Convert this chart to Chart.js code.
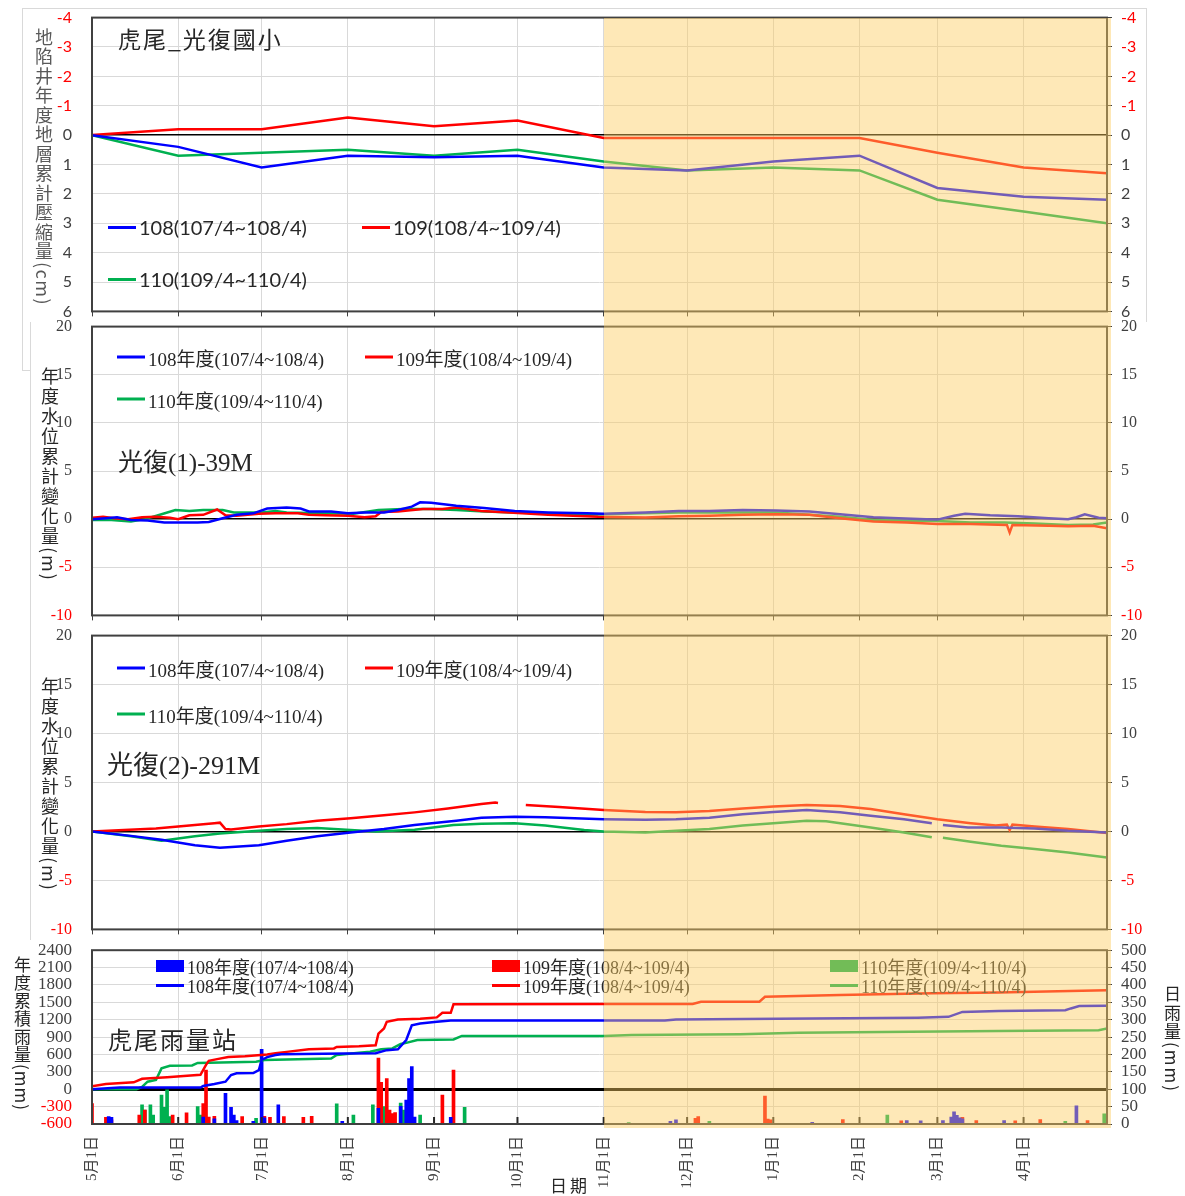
<!DOCTYPE html>
<html>
<head>
<meta charset="utf-8">
<script src="https://cdn.jsdelivr.net/npm/chart.js@4.4.0/dist/chart.umd.min.js"></script>
<style>
body { margin: 0; background: #fff; }
#wrap { position: relative; width: 1185px; height: 1196px; overflow: hidden; }
canvas { position: absolute; left: 0; }
.txt { position: absolute; white-space: nowrap; color: #262626; transform: translateY(-50%); line-height: 1; }
.vert { position: absolute; writing-mode: vertical-rl; white-space: nowrap; line-height: 1; color: #262626; font-family: "Noto Sans CJK TC", "Liberation Serif", serif; }
.leg { position: absolute; white-space: nowrap; display: flex; align-items: center; transform: translateY(-50%); color: #262626; line-height: 1; }
.leg i { display: inline-block; width: 28px; margin-right: 3px; }
#shade { position: absolute; background: rgba(252, 205, 95, 0.45); pointer-events: none; z-index: 10; }
</style>
</head>
<body>
<div id="wrap">
  <div style="position:absolute;left:22px;top:8px;width:1123px;height:361px;border:1px solid #d9d9d9;"></div>
  <div style="position:absolute;left:30px;top:322px;width:1160px;height:618px;background:#fff;border-left:1px solid #d9d9d9;"></div>
  <canvas id="c1" width="1185" height="322" style="top:0px"></canvas>
  <canvas id="c2" width="1185" height="314" style="top:312px"></canvas>
  <canvas id="c3" width="1185" height="319" style="top:621px"></canvas>
  <canvas id="c4" width="1185" height="261" style="top:935px"></canvas>
  <div id="shade"></div>
</div>
<script>
// x axis: days since 5/1
const monthDays = [0, 31, 61, 92, 123, 153, 184, 214, 245, 276, 304, 335];
const monthLabels = ['5月1日', '6月1日', '7月1日', '8月1日', '9月1日', '10月1日', '11月1日', '12月1日', '1月1日', '2月1日', '3月1日', '4月1日'];
const shadeFrom = 184; // 11月1日

// 地陷井 (cm), monthly
const subsDays = [0, 31, 61, 92, 123, 153, 184, 214, 245, 276, 304, 335, 365];
const subs108 = [0, 0.4, 1.1, 0.7, 0.75, 0.7, 1.1, 1.2, 0.9, 0.7, 1.8, 2.1, 2.2];
const subs109 = [0, -0.2, -0.2, -0.6, -0.3, -0.5, 0.1, 0.1, 0.1, 0.1, 0.6, 1.1, 1.3];
const subs110 = [0, 0.7, 0.6, 0.5, 0.7, 0.5, 0.9, 1.2, 1.1, 1.2, 2.2, 2.6, 3.0];
const subsLabels = ['108(107/4~108/4)', '109(108/4~109/4)', '110(109/4~110/4)'];
const yearLabels = ['108年度(107/4~108/4)', '109年度(108/4~109/4)', '110年度(109/4~110/4)'];

// 光復(1)-39M water level change (m): [day, value]
const wl39_108 = [[0,0],[5,0.1],[9,0.2],[14,-0.1],[20,-0.15],[26,-0.35],[33,-0.35],[38,-0.35],[42,-0.3],[47,0.1],[52,0.45],[58,0.6],[63,1.1],[70,1.2],[75,1.1],[78,0.8],[86,0.8],[92,0.6],[98,0.7],[105,0.7],[110,0.95],[115,1.3],[118,1.75],[122,1.7],[131,1.4],[141,1.15],[152,0.85],[164,0.7],[178,0.6],[184,0.55],[199,0.7],[211,0.85],[222,0.85],[234,0.95],[246,0.9],[258,0.8],[269,0.5],[281,0.2],[290,0.1],[300,0],[304,-0.05],[310,0.35],[314,0.55],[323,0.4],[333,0.3],[344,0.1],[351,0],[354,0.2],[357,0.5],[362,0.15],[365,0.1]];
const wl39_109 = [[0,0.15],[4,0.25],[8,0.1],[13,0],[18,0.2],[23,0.25],[28,0.15],[31,0],[35,0.4],[40,0.45],[45,1.0],[48,0.4],[52,0.35],[60,0.55],[66,0.6],[74,0.6],[78,0.45],[84,0.4],[92,0.35],[98,0.2],[102,0.3],[104,0.75],[110,0.8],[119,1.05],[126,1.05],[131,1.2],[140,0.85],[150,0.7],[164,0.45],[182,0.25],[199,0.17],[211,0.3],[222,0.35],[234,0.45],[246,0.5],[258,0.45],[269,0.1],[281,-0.25],[293,-0.35],[304,-0.5],[316,-0.5],[329,-0.6],[330,-1.4],[331,-0.6],[344,-0.7],[351,-0.75],[360,-0.7],[365,-0.95]];
const wl39_110 = [[0,-0.1],[7,-0.1],[14,-0.25],[19,0],[25,0.5],[30,0.95],[35,0.85],[40,0.95],[47,0.95],[51,0.7],[61,0.7],[66,0.85],[70,0.7],[82,0.6],[94,0.55],[103,0.95],[112,1.05],[122,1.05],[131,0.95],[141,0.8],[152,0.7],[164,0.6],[178,0.45],[184,0.5],[199,0.6],[211,0.7],[222,0.7],[234,0.7],[246,0.7],[258,0.45],[269,0.25],[281,-0.1],[293,-0.17],[304,-0.2],[316,-0.35],[328,-0.35],[339,-0.45],[351,-0.6],[360,-0.55],[365,-0.35]];

// 光復(2)-291M water level change (m)
const wl291_108 = [[0,0],[14,-0.45],[25,-0.85],[37,-1.4],[46,-1.65],[60,-1.4],[70,-0.95],[81,-0.5],[93,-0.1],[105,0.25],[116,0.65],[131,1.1],[140,1.4],[152,1.5],[163,1.45],[184,1.25],[199,1.2],[210,1.25],[222,1.4],[234,1.75],[245,2.0],[257,2.2],[269,1.95],[280,1.6],[292,1.25],[302,0.85],[303,null],[306,0.65],[315,0.4],[327,0.4],[339,0.3],[351,0.07],[365,-0.1]];
const wl291_109 = [[0,0],[23,0.3],[44,0.85],[46,0.9],[48,0.25],[50,0.2],[60,0.5],[70,0.75],[81,1.1],[93,1.35],[105,1.65],[116,1.95],[128,2.35],[140,2.8],[145,2.95],[146,2.9],[150,null],[156,2.7],[168,2.5],[184,2.2],[199,2.0],[210,1.95],[222,2.1],[234,2.35],[245,2.55],[257,2.7],[269,2.6],[280,2.3],[292,1.75],[304,1.25],[316,0.85],[325,0.6],[329,0.7],[330,0.15],[331,0.7],[339,0.5],[351,0.25],[365,-0.15]];
const wl291_110 = [[0,0],[14,-0.5],[25,-0.95],[37,-0.5],[46,-0.2],[60,0.07],[70,0.25],[81,0.35],[93,0.15],[102,0],[116,0.17],[130,0.65],[140,0.8],[152,0.85],[163,0.6],[177,0.15],[184,0],[199,-0.1],[210,0.07],[222,0.25],[234,0.6],[245,0.85],[257,1.1],[264,1.05],[280,0.4],[292,-0.1],[302,-0.6],[303,null],[306,-0.65],[316,-1.05],[327,-1.45],[339,-1.8],[351,-2.15],[365,-2.65]];

// 虎尾雨量站 daily rain (mm): [day, mm]
const rainDay108 = [[6,21],[7,19],[40,20],[44,15],[48,88],[50,48],[51,26],[52,10],[58,8],[61,215],[62,18],[67,55],[90,8],[103,45],[111,51],[113,69],[114,131],[115,165],[116,20],[129,19],[208,8],[210,12],[259,5],[293,10],[298,9],[306,10],[309,20],[310,35],[311,25],[312,18],[313,15],[328,10],[354,52]];
const rainDay109 = [[0,59],[5,19],[7,12],[17,26],[19,40],[29,26],[34,32],[40,59],[41,155],[42,20],[44,22],[54,21],[62,22],[64,19],[69,21],[76,19],[79,22],[103,190],[104,120],[106,131],[107,40],[108,30],[109,33],[126,83],[130,155],[217,16],[218,21],[242,80],[243,14],[244,12],[270,13],[291,9],[313,19],[318,10],[332,9],[341,13],[358,10]];
const rainDay110 = [[18,55],[19,40],[21,55],[22,26],[25,83],[26,48],[27,98],[28,21],[38,50],[39,26],[59,16],[88,58],[94,26],[101,55],[105,50],[111,60],[112,40],[118,26],[134,48],[193,4],[222,8],[286,26],[350,8],[364,29]];

// cumulative rain (mm)
const rainCum108 = [[0,0],[7,20],[10,30],[39,30],[40,55],[44,90],[48,130],[50,245],[52,275],[58,280],[60,330],[61,505],[63,555],[66,590],[68,605],[91,615],[102,620],[106,675],[110,690],[113,850],[115,1105],[118,1135],[124,1165],[129,1185],[184,1185],[206,1185],[210,1205],[259,1220],[297,1235],[308,1250],[313,1335],[326,1350],[350,1365],[352,1395],[355,1435],[365,1440]];
const rainCum109 = [[0,50],[5,90],[15,120],[18,180],[27,205],[33,228],[39,250],[41,420],[42,490],[45,520],[49,555],[55,570],[63,600],[66,620],[70,645],[78,690],[87,705],[88,730],[96,740],[102,760],[103,960],[105,1050],[106,1165],[110,1205],[118,1215],[124,1240],[126,1320],[129,1320],[130,1465],[184,1470],[216,1470],[219,1510],[240,1510],[242,1595],[269,1625],[302,1655],[326,1670],[356,1700],[365,1710]];
const rainCum110 = [[0,0],[16,0],[18,40],[20,130],[23,160],[25,360],[28,405],[36,410],[38,455],[59,475],[62,505],[86,530],[88,590],[96,630],[100,647],[104,690],[108,705],[111,780],[113,800],[117,848],[130,860],[133,920],[184,920],[194,935],[233,950],[254,975],[284,990],[326,1005],[362,1020],[365,1050]];

const BLUE = '#0000ff', RED = '#ff0000', GREEN = '#00b050';
const DARK = '#404040';
const SERIF = '"Liberation Serif", "Noto Sans CJK TC", serif';
const SANS = 'Lato, "Liberation Sans", sans-serif';

const frame = {
    id: 'frame',
    afterDraw(chart, args, opts) {
        const { ctx, chartArea: a } = chart;
        ctx.save();
        if (opts.innerTicks) {
            const xs = chart.scales.x;
            ctx.strokeStyle = '#262626';
            ctx.lineWidth = 2;
            monthDays.forEach(d => {
                const px = xs.getPixelForValue(d);
                ctx.beginPath();
                ctx.moveTo(px, a.bottom);
                ctx.lineTo(px, a.bottom - 7);
                ctx.stroke();
            });
        }
        ctx.strokeStyle = DARK;
        ctx.lineWidth = 2;
        ctx.strokeRect(a.left, a.top, a.right - a.left, a.bottom - a.top);
        ctx.restore();
    }
};
Chart.register(frame);

const pts = arr => arr.map(([x, y]) => ({ x, y }));
const signColor = c => (c.tick && c.tick.value < 0) ? RED : DARK;
const plain = v => String(v);

function lineSet(label, data, color) {
    return { type: 'line', label, data: pts(data), borderColor: color, backgroundColor: color,
        borderWidth: 2.5, pointRadius: 0, tension: 0, spanGaps: false, order: 1, yAxisID: 'y' };
}
function barSet(label, data, color) {
    return { type: 'bar', label, data: pts(data), backgroundColor: color,
        barThickness: 3, grouped: false, order: 2, yAxisID: 'y2' };
}

function xAxis(withLabels) {
    return {
        type: 'linear', min: 0, max: 365, offset: false,
        afterBuildTicks: s => { s.ticks = monthDays.map(v => ({ value: v })); },
        afterFit: s => { s.height = withLabels ? 72 : 10; },
        border: { display: false },
        grid: { color: '#d9d9d9', offset: false, drawTicks: !withLabels, tickLength: 5, tickColor: DARK },
        ticks: withLabels ? {
            display: true, autoSkip: false, minRotation: 90, maxRotation: 90, padding: 12,
            color: DARK, font: { family: SERIF, size: 15 },
            callback: (v, i) => monthLabels[i]
        } : { display: false }
    };
}
function leftAxis(min, max, step, font, zeroW, reverse) {
    return {
        type: 'linear', position: 'left', min, max, reverse: !!reverse,
        afterFit: s => { s.width = 92; },
        border: { display: false },
        grid: { color: c => c.tick.value === 0 ? '#000000' : '#d9d9d9',
                lineWidth: c => c.tick.value === 0 ? zeroW : 1, drawTicks: false },
        ticks: { stepSize: step, autoSkip: false, padding: 20, color: signColor, font, callback: plain }
    };
}
function rightAxis(min, max, step, font, reverse, color) {
    return {
        type: 'linear', position: 'right', min, max, reverse: !!reverse,
        afterFit: s => { s.width = 78; },
        border: { display: false },
        grid: { drawOnChartArea: false, drawTicks: true, tickLength: 5, tickColor: DARK },
        ticks: { stepSize: step, autoSkip: false, padding: 9, color: color || signColor, font, callback: plain }
    };
}
function options(scales, frameOpts) {
    return {
        responsive: false, maintainAspectRatio: false, animation: false, events: [],
        layout: { padding: { top: 15, left: 0, right: 0, bottom: 0 } },
        plugins: { legend: { display: false }, tooltip: { enabled: false }, frame: frameOpts || {} },
        scales
    };
}

// build a chart, then size and move its canvas so the plot area sits at top..bottom
function place(id, build, top, bottom) {
    const cv = document.getElementById(id);
    let ch = build(cv);
    for (let k = 0; k < 3; k++) {
        const have = ch.chartArea.bottom - ch.chartArea.top;
        if (Math.abs(have - (bottom - top)) < 0.5) break;
        const h = cv.height + Math.round(bottom - top - have);
        ch.destroy();
        cv.width = 1185;
        cv.height = h;
        ch = build(cv);
    }
    cv.style.top = (top - ch.chartArea.top) + 'px';
    return ch;
}

// Panel 1: 地陷井
const subsFont = { family: SANS, size: 16 };
const ch1 = place('c1', cv => new Chart(cv, {
    type: 'line',
    data: { datasets: [
        lineSet(subsLabels[0], subsDays.map((d, i) => [d, subs108[i]]), BLUE),
        lineSet(subsLabels[1], subsDays.map((d, i) => [d, subs109[i]]), RED),
        lineSet(subsLabels[2], subsDays.map((d, i) => [d, subs110[i]]), GREEN)
    ] },
    options: options({ x: xAxis(false), y: leftAxis(-4, 6, 1, subsFont, 1.5, true), y2: rightAxis(-4, 6, 1, subsFont, true) })
}), 18, 312);

// Panels 2 & 3: water level
const wlFont = { family: SERIF, size: 16 };
function wlChart(s108, s109, s110) {
    return cv => new Chart(cv, {
        type: 'line',
        data: { datasets: [
            lineSet(yearLabels[0], s108, BLUE),
            lineSet(yearLabels[1], s109, RED),
            lineSet(yearLabels[2], s110, GREEN)
        ] },
        options: options({ x: xAxis(false), y: leftAxis(-10, 20, 5, wlFont, 1.5), y2: rightAxis(-10, 20, 5, wlFont) })
    });
}
const ch2 = place('c2', wlChart(wl39_108, wl39_109, wl39_110), 327, 616);
const ch3 = place('c3', wlChart(wl291_108, wl291_109, wl291_110), 636, 930);

// Panel 4: rain
const rainFont = { family: SERIF, size: 17 };
const ch4 = place('c4', cv => new Chart(cv, {
    type: 'line',
    data: { datasets: [
        lineSet(yearLabels[0], rainCum108, BLUE),
        lineSet(yearLabels[1], rainCum109, RED),
        lineSet(yearLabels[2], rainCum110, GREEN),
        barSet(yearLabels[0], rainDay108, BLUE),
        barSet(yearLabels[1], rainDay109, RED),
        barSet(yearLabels[2], rainDay110, GREEN)
    ] },
    options: options({ x: xAxis(true), y: leftAxis(-600, 2400, 300, rainFont, 3), y2: rightAxis(0, 500, 50, rainFont, false, DARK) }, { innerTicks: true })
}), 950, 1124);

// texts, legends
const wrap = document.getElementById('wrap');
function addText(cls, text, x, y, font, extra) {
    const d = document.createElement('div');
    d.className = cls;
    d.textContent = text;
    d.style.left = x + 'px';
    d.style.top = y + 'px';
    d.style.font = font;
    if (extra) Object.assign(d.style, extra);
    wrap.appendChild(d);
    return d;
}
function addLegend(entries, font) {
    entries.forEach(e => {
        const d = document.createElement('div');
        d.className = 'leg';
        d.style.left = e.x + 'px';
        d.style.top = e.y + 'px';
        d.style.font = font;
        const m = document.createElement('i');
        m.style.background = e.color;
        m.style.height = e.bar ? '12px' : '3px';
        d.appendChild(m);
        d.appendChild(document.createTextNode(e.text));
        wrap.appendChild(d);
    });
}

const legFont = '19px ' + SERIF;
addLegend([
    { x: 108, y: 227, text: subsLabels[0], color: BLUE },
    { x: 362, y: 227, text: subsLabels[1], color: RED },
    { x: 108, y: 279, text: subsLabels[2], color: GREEN }
], '20px ' + SANS);
[[357, 399], [668, 714]].forEach(([r1, r2]) => addLegend([
    { x: 117, y: r1, text: yearLabels[0], color: BLUE },
    { x: 365, y: r1, text: yearLabels[1], color: RED },
    { x: 117, y: r2, text: yearLabels[2], color: GREEN }
], legFont));
addLegend([
    { x: 156, y: 966, text: yearLabels[0], color: BLUE, bar: true },
    { x: 492, y: 966, text: yearLabels[1], color: RED, bar: true },
    { x: 830, y: 966, text: yearLabels[2], color: GREEN, bar: true },
    { x: 156, y: 985, text: yearLabels[0], color: BLUE },
    { x: 492, y: 985, text: yearLabels[1], color: RED },
    { x: 830, y: 985, text: yearLabels[2], color: GREEN }
], '18px ' + SERIF);

addText('txt', '虎尾_光復國小', 118, 38, '23px "Noto Sans CJK TC", sans-serif', { letterSpacing: '2px' });
addText('txt', '光復(1)-39M', 118, 460, '25px ' + SERIF);
addText('txt', '光復(2)-291M', 107, 762, '26px ' + SERIF);
addText('txt', '虎尾雨量站', 108, 1038, '24px "Noto Sans CJK TC", sans-serif', { letterSpacing: '2px' });
addText('txt', '日期', 550, 1184, '17px "Noto Sans CJK TC", sans-serif', { letterSpacing: '3px' });

addText('vert', '地陷井年度地層累計壓縮量(cm)', 31, 28, '18px "Noto Sans CJK TC", sans-serif', { color: '#595959', letterSpacing: '1.5px' });
addText('vert', '年度水位累計變化量(m)', 37, 367, '18px "Noto Sans CJK TC", sans-serif', { letterSpacing: '2px' });
addText('vert', '年度水位累計變化量(m)', 37, 677, '18px "Noto Sans CJK TC", sans-serif', { letterSpacing: '2px' });
addText('vert', '年度累積雨量(mm)', 10, 956, '17px "Noto Sans CJK TC", sans-serif', { letterSpacing: '1px' });
addText('vert', '日雨量(mm)', 1160, 985, '17px "Noto Sans CJK TC", sans-serif', { letterSpacing: '2px' });

// shaded period from 11月1日 to end
const shade = document.getElementById('shade');
const top1 = parseFloat(document.getElementById('c1').style.top) + ch1.chartArea.top;
const bot4 = parseFloat(document.getElementById('c4').style.top) + ch4.chartArea.bottom;
const sx = ch4.scales.x.getPixelForValue(shadeFrom);
shade.style.left = sx + 'px';
shade.style.top = top1 + 'px';
shade.style.width = (ch4.chartArea.right + 4 - sx) + 'px';
shade.style.height = (bot4 + 4 - top1) + 'px';
</script>
</body>
</html>
